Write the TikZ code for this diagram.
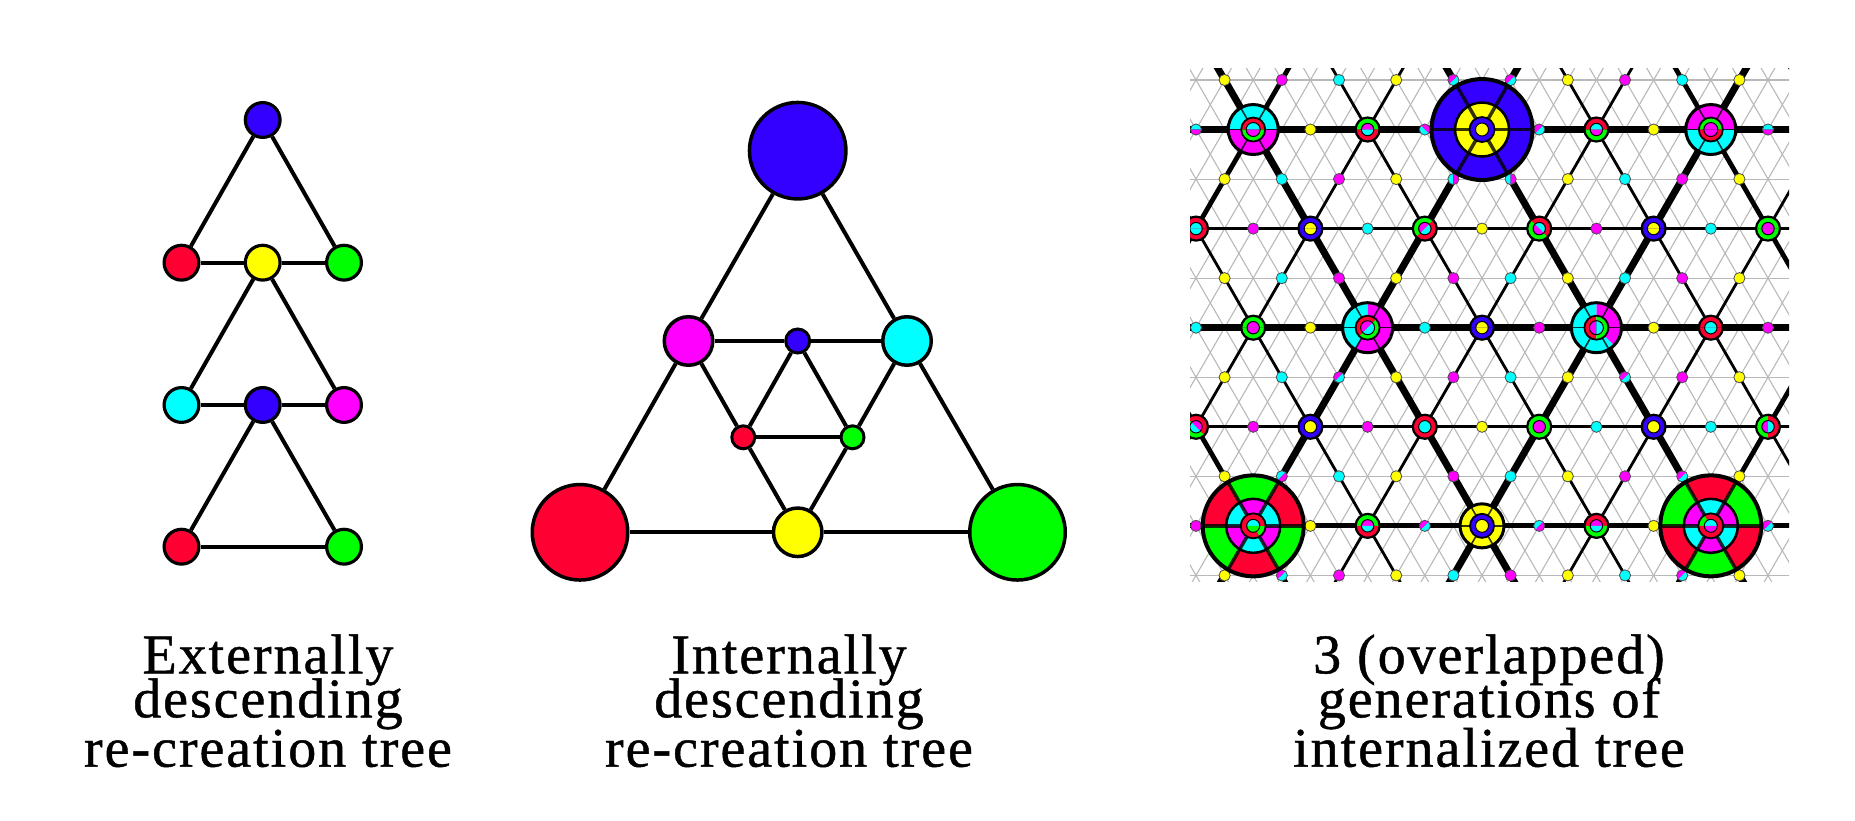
\documentclass[tikz,border=0pt]{standalone}
\usepackage{fontspec}
\newfontfamily\capfont[LetterSpace=3.5,FakeBold=0.8]{Liberation Serif}
\definecolor{cB}{RGB}{51,0,255}
\definecolor{cR}{RGB}{255,0,51}
\definecolor{cG}{RGB}{0,255,0}
\definecolor{cY}{RGB}{255,255,0}
\definecolor{cC}{RGB}{0,255,255}
\definecolor{cM}{RGB}{255,0,255}
% lattice helpers for the right-hand pattern
\newcommand\RLat[2]{\pgfmathsetmacro\cx{1196+28.6*(#2)}\pgfmathsetmacro\cy{741-49.54*(#1)}}
\newcommand\RPie[6]{\fill[#6] (#1,#2) -- ++(#4:#3pt) arc[start angle=#4,end angle=#5,radius=#3pt] -- cycle;}
\newcommand\RAnn[7]{\fill[#7] ([shift={(#5:#4pt)}]#1,#2) arc[start angle=#5,end angle=#6,radius=#4pt] -- ([shift={(#6:#3pt)}]#1,#2) arc[start angle=#6,end angle=#5,radius=#3pt] -- cycle;}
\newcommand\RTwoAnn[6]{\RAnn{\cx}{\cy}{#1}{#2}{#3}{#4}{#5}\RAnn{\cx}{\cy}{#1}{#2}{#4}{#3+360}{#6}}
\newcommand\RTwoPie[5]{\RPie{\cx}{\cy}{#1}{#2}{#3}{#4}\RPie{\cx}{\cy}{#1}{#3}{#2+360}{#5}}
\newcommand\RCirc[2]{\draw[black,line width=#2] (\cx,\cy) circle[radius=#1pt];}
\newcommand\RSpokes[3]{\foreach \q in {0,60,...,300}{\draw[black,opacity=.8,line width=#3] ([shift={(\q:#1pt)}]\cx,\cy) -- ([shift={(\q:#2pt)}]\cx,\cy);}}
\newcommand\RSd[3]{\RLat{#1}{#2}\filldraw[fill=#3,draw=black!70,line width=.8pt] (\cx,\cy) circle[radius=5.6pt];}
\newcommand\RHd[5]{\RLat{#1}{#2}\RTwoPie{5.6}{#3}{#3+180}{#4}{#5}\draw[black!70,line width=.8pt] (\cx,\cy) circle[radius=5.6pt];}
\newcommand\RRing[7]{\RLat{#1}{#2}\RTwoPie{12}{#3}{#3+180}{#4}{#5}\RTwoPie{6.2}{#3}{#3+180}{#6}{#7}\RCirc{12}{2.2pt}\RCirc{6.2}{1pt}}
\tikzset{
  ball/.style={circle,draw=black,inner sep=0pt},
  edge/.style={black,line width=4pt},
  gridl/.style={gray!55,line width=1.1pt},
  gentwo/.style={black,line width=2.8pt},
  genone/.style={black,line width=4.8pt},
  genmain/.style={black,line width=7pt},
  captext/.style={anchor=base,inner sep=0pt,font={\capfont\fontsize{56pt}{56pt}\selectfont}}
}
\begin{document}
\begin{tikzpicture}[x=1pt,y=1pt]
\useasboundingbox (0,0) rectangle (1855,821);
\fill[white] (0,0) rectangle (1855,821);

% ---------------- left panel: externally descending tree
\begin{scope}[every node/.style={ball,line width=3.2pt,minimum size=34.8pt}]
\node[fill=cB] (L1) at (262.7,701) {};
\node[fill=cR] (L2r) at (181.5,558.3) {};
\node[fill=cY] (L2y) at (262.7,558.3) {};
\node[fill=cG] (L2g) at (344,558.3) {};
\node[fill=cC] (L3c) at (181.5,416) {};
\node[fill=cB] (L3b) at (262.7,416) {};
\node[fill=cM] (L3m) at (344,416) {};
\node[fill=cR] (L4r) at (181.5,274.3) {};
\node[fill=cG] (L4g) at (344,274.3) {};
\end{scope}
\draw[edge] (L1)--(L2r); \draw[edge] (L1)--(L2g);
\draw[edge] (L2r)--(L2y); \draw[edge] (L2y)--(L2g);
\draw[edge] (L2y)--(L3c); \draw[edge] (L2y)--(L3m);
\draw[edge] (L3c)--(L3b); \draw[edge] (L3b)--(L3m);
\draw[edge] (L3b)--(L4r); \draw[edge] (L3b)--(L4g);
\draw[edge] (L4r)--(L4g);

% ---------------- middle panel: internally descending tree
\node[ball,line width=3.5pt,fill=cB,minimum size=96.5pt] (M1) at (797.7,670.3) {};
\node[ball,line width=3.5pt,fill=cM,minimum size=48.5pt] (Mm) at (688.5,480) {};
\node[ball,line width=3pt,fill=cB,minimum size=24pt] (Mb) at (797.7,480) {};
\node[ball,line width=3.5pt,fill=cC,minimum size=48.5pt] (Mc) at (907,480) {};
\node[ball,line width=3pt,fill=cR,minimum size=23pt] (Msr) at (743.3,383.7) {};
\node[ball,line width=3pt,fill=cG,minimum size=23pt] (Msg) at (852.5,383.7) {};
\node[ball,line width=3.5pt,fill=cR,minimum size=95.5pt] (Mr) at (580,288.7) {};
\node[ball,line width=3.5pt,fill=cY,minimum size=48.5pt] (My) at (797.7,288.7) {};
\node[ball,line width=3.5pt,fill=cG,minimum size=95.5pt] (Mg) at (1017.5,288.7) {};
\draw[edge] (M1)--(Mm); \draw[edge] (Mm)--(Mr);
\draw[edge] (M1)--(Mc); \draw[edge] (Mc)--(Mg);
\draw[edge] (Mr)--(My); \draw[edge] (My)--(Mg);
\draw[edge] (Mm)--(Mb); \draw[edge] (Mb)--(Mc);
\draw[edge] (Mm)--(Msr); \draw[edge] (Msr)--(My);
\draw[edge] (Mc)--(Msg); \draw[edge] (Msg)--(My);
\draw[edge] (Mb)--(Msr); \draw[edge] (Mb)--(Msg);
\draw[edge] (Msr)--(Msg);

% ---------------- right panel: overlapped generations
\begin{scope}
\clip (1190,239) rectangle (1789,752);
% fine grey lattice
\foreach \r in {0,...,10} \draw[gridl] (1180,{741-49.54*\r}) -- (1800,{741-49.54*\r});
\foreach \c in {-12,...,21} \draw[gridl] ({1196+28.6*(\c-1)},{741+49.54}) -- ({1196+28.6*(\c+11)},{741-49.54*11});
\foreach \c in {-1,...,33} \draw[gridl] ({1196+28.6*(\c+1)},{741+49.54}) -- ({1196+28.6*(\c-11)},{741-49.54*11});
% second generation lattice
\foreach \r in {3,7} \draw[gentwo] (1180,{741-49.54*\r}) -- (1800,{741-49.54*\r});
\foreach \c in {-11,-3,5,13,21} \draw[gentwo] ({1196+28.6*(\c-1)},{741+49.54}) -- ({1196+28.6*(\c+11)},{741-49.54*11});
\foreach \c in {-1,7,15,23,31} \draw[gentwo] ({1196+28.6*(\c+1)},{741+49.54}) -- ({1196+28.6*(\c-11)},{741-49.54*11});
% first generation lattice
\draw[genmain] (1180,{741-49.54}) -- (1800,{741-49.54});
\draw[genmain] (1180,{741-49.54*5}) -- (1800,{741-49.54*5});
\draw[genone] (1180,{741-49.54*9}) -- (1800,{741-49.54*9});
\foreach \c in {-7,17} \draw[genone] ({1196+28.6*(\c-1)},{741+49.54}) -- ({1196+28.6*(\c+11)},{741-49.54*11});
\foreach \c in {1,9} \draw[genmain] ({1196+28.6*(\c-1)},{741+49.54}) -- ({1196+28.6*(\c+11)},{741-49.54*11});
\foreach \c in {3,27} \draw[genone] ({1196+28.6*(\c+1)},{741+49.54}) -- ({1196+28.6*(\c-11)},{741-49.54*11});
\foreach \c in {11,19} \draw[genmain] ({1196+28.6*(\c+1)},{741+49.54}) -- ({1196+28.6*(\c-11)},{741-49.54*11});

% third generation: small dots
\foreach \m/\k in {1/cY,3/cM,5/cC,7/cY,13/cY,15/cM,17/cC,19/cY} {\RSd{0}{\m}{\k}}
\RHd{0}{9}{45}{cM}{cC} \RHd{0}{11}{45}{cM}{cC}
\foreach \m/\k in {4/cY,16/cY} {\RSd{1}{\m}{\k}}
\RHd{1}{0}{0}{cC}{cM} \RHd{1}{8}{-45}{cM}{cC} \RHd{1}{12}{45}{cM}{cC} \RHd{1}{20}{0}{cC}{cM}
\foreach \m/\k in {1/cY,3/cC,5/cM,7/cY,13/cY,15/cC,17/cM,19/cY} {\RSd{2}{\m}{\k}}
\RHd{2}{9}{90}{cC}{cM} \RHd{2}{11}{90}{cC}{cM}
\foreach \m/\k in {2/cM,6/cC,10/cY,14/cM,18/cC} {\RSd{3}{\m}{\k}}
\foreach \m/\k in {1/cY,3/cC,5/cM,7/cY,9/cM,11/cC,13/cY,15/cC,17/cM,19/cY} {\RSd{4}{\m}{\k}}
\foreach \m/\k in {0/cC,4/cY,8/cC,12/cM,16/cY,20/cM} {\RSd{5}{\m}{\k}}
\foreach \m/\k in {1/cY,3/cC,7/cY,9/cM,11/cC,13/cY,17/cM,19/cY} {\RSd{6}{\m}{\k}}
\RHd{6}{5}{45}{cM}{cC} \RHd{6}{15}{45}{cM}{cC}
\foreach \m/\k in {2/cM,6/cM,10/cY,14/cC,18/cC} {\RSd{7}{\m}{\k}}
\foreach \m/\k in {1/cY,5/cC,7/cY,9/cM,11/cC,13/cY,15/cM,19/cY} {\RSd{8}{\m}{\k}}
\RHd{8}{3}{45}{cC}{cM} \RHd{8}{17}{45}{cM}{cC}
\foreach \m/\k in {0/cM,4/cY,16/cY} {\RSd{9}{\m}{\k}}
\RHd{9}{8}{45}{cM}{cC} \RHd{9}{12}{45}{cC}{cM} \RHd{9}{20}{45}{cM}{cC}
\foreach \m/\k in {1/cY,5/cM,7/cY,9/cC,11/cM,13/cY,15/cC,19/cY} {\RSd{10}{\m}{\k}}
\RHd{10}{3}{45}{cM}{cC} \RHd{10}{17}{45}{cM}{cC}

% second generation: rings
\RRing{1}{6}{0}{cG}{cR}{cM}{cC}
\RRing{1}{14}{0}{cR}{cG}{cC}{cM}
\RRing{3}{0}{0}{cR}{cR}{cC}{cC}
\RRing{3}{4}{0}{cB}{cB}{cY}{cY}
\RRing{3}{8}{45}{cG}{cR}{cM}{cC}
\RRing{3}{12}{-45}{cR}{cG}{cC}{cM}
\RRing{3}{16}{0}{cB}{cB}{cY}{cY}
\RRing{3}{20}{0}{cG}{cG}{cM}{cM}
\RRing{5}{2}{0}{cG}{cG}{cM}{cM}
\RRing{5}{10}{0}{cB}{cB}{cY}{cY}
\RRing{5}{18}{0}{cR}{cR}{cC}{cC}
\RRing{7}{0}{-45}{cR}{cG}{cM}{cC}
\RRing{7}{4}{0}{cB}{cB}{cY}{cY}
\RRing{7}{8}{0}{cR}{cR}{cC}{cC}
\RRing{7}{12}{0}{cG}{cG}{cM}{cM}
\RRing{7}{16}{0}{cB}{cB}{cY}{cY}
\RRing{7}{20}{90}{cG}{cR}{cM}{cC}
\RRing{9}{6}{0}{cG}{cR}{cM}{cC}
\RRing{9}{14}{0}{cR}{cG}{cM}{cC}

% first generation, medium nodes
\RLat{1}{2}
\RTwoAnn{12}{25}{0}{180}{cC}{cM}\RTwoAnn{7}{12}{0}{180}{cR}{cG}\RTwoPie{7}{0}{180}{cC}{cM}
\RSpokes{12}{25}{1.6pt}\RCirc{25}{3pt}\RCirc{12}{1.8pt}\RCirc{7}{1pt}
\RLat{1}{18}
\RTwoAnn{12}{25}{0}{180}{cM}{cC}\RTwoAnn{7}{12}{0}{180}{cG}{cR}\RTwoPie{7}{0}{180}{cM}{cM}
\RSpokes{12}{25}{1.6pt}\RCirc{25}{3pt}\RCirc{12}{1.8pt}\RCirc{7}{1pt}
\RLat{5}{6}
\RTwoAnn{12}{25}{90}{240}{cC}{cM}\RTwoAnn{7}{12}{45}{225}{cR}{cG}\RTwoPie{7}{45}{225}{cM}{cC}
\RSpokes{12}{25}{1.6pt}\RCirc{25}{3pt}\RCirc{12}{1.8pt}\RCirc{7}{1pt}
\RLat{5}{14}
\RTwoAnn{12}{25}{-45}{90}{cM}{cC}\RTwoAnn{7}{12}{90}{270}{cR}{cG}\RTwoPie{7}{90}{270}{cM}{cC}
\RSpokes{12}{25}{1.6pt}\RCirc{25}{3pt}\RCirc{12}{1.8pt}\RCirc{7}{1pt}
\RLat{9}{10}
\fill[cY] (\cx,\cy) circle[radius=22pt];
\fill[cB] (\cx,\cy) circle[radius=12pt];
\fill[cY] (\cx,\cy) circle[radius=6.5pt];
\RSpokes{12}{22}{1.6pt}\RCirc{22}{3pt}\RCirc{12}{1.8pt}\RCirc{6.5}{1pt}

% first generation, large nodes
\RLat{1}{10}
\fill[cB] (\cx,\cy) circle[radius=50.5pt];
\fill[cY] (\cx,\cy) circle[radius=27pt];
\fill[cB] (\cx,\cy) circle[radius=12.5pt];
\fill[cY] (\cx,\cy) circle[radius=6.5pt];
\RSpokes{12.5}{50.5}{3.5pt}\RCirc{50.5}{4pt}\RCirc{27}{2.5pt}\RCirc{12.5}{1.8pt}\RCirc{6.5}{1pt}

\RLat{9}{2}
\foreach \a/\k in {0/cR,60/cG,120/cR,180/cG,240/cR,300/cG} {\RAnn{\cx}{\cy}{27}{50.5}{\a}{\a+60}{\k}}
\foreach \a/\k in {0/cC,60/cM,120/cC,180/cM,240/cC,300/cM} {\RAnn{\cx}{\cy}{12.5}{27}{\a}{\a+60}{\k}}
\RTwoAnn{6.5}{12.5}{-60}{0}{cG}{cR}\RTwoPie{6.5}{0}{180}{cC}{cG}
\RSpokes{12.5}{50.5}{3.5pt}\RCirc{50.5}{4pt}\RCirc{27}{2.5pt}\RCirc{12.5}{1.8pt}\RCirc{6.5}{1pt}

\RLat{9}{18}
\foreach \a/\k in {0/cG,60/cR,120/cG,180/cR,240/cG,300/cR} {\RAnn{\cx}{\cy}{27}{50.5}{\a}{\a+60}{\k}}
\foreach \a/\k in {0/cM,60/cC,120/cM,180/cC,240/cM,300/cC} {\RAnn{\cx}{\cy}{12.5}{27}{\a}{\a+60}{\k}}
\RTwoAnn{6.5}{12.5}{120}{180}{cG}{cR}\RTwoPie{6.5}{0}{180}{cC}{cM}
\RSpokes{12.5}{50.5}{3.5pt}\RCirc{50.5}{4pt}\RCirc{27}{2.5pt}\RCirc{12.5}{1.8pt}\RCirc{6.5}{1pt}
\end{scope}

% ---------------- captions
\node[captext] (tL1) at (268,147.7) {Externally};
\node[captext] (tL2) at (268,103.7) {descending};
\node[captext] (tL3) at (268,54.3) {re-creation tree};
\node[captext] (tM1) at (789,147.7) {Internally};
\node[captext] (tM2) at (789,103.7) {descending};
\node[captext] (tM3) at (789,54.3) {re-creation tree};
\node[captext] (tR1) at (1489,147.7) {3 (overlapped)};
\node[captext] (tR2) at (1489,103.7) {generations of};
\node[captext] (tR3) at (1489,54.3) {internalized tree};
\end{tikzpicture}
\end{document}
